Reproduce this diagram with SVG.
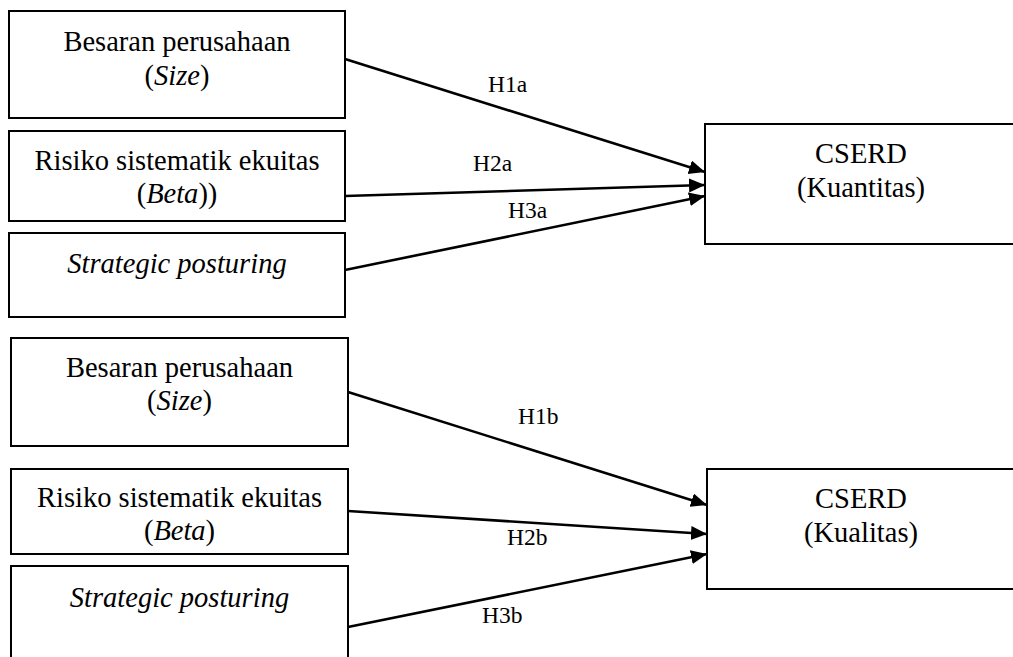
<svg xmlns="http://www.w3.org/2000/svg" width="1013" height="657" viewBox="0 0 1013 657">
<style>
.box{fill:#fff;stroke:#000;stroke-width:2}
.t{font-family:"Liberation Serif","Times New Roman",serif;font-size:28.5px;fill:#000;text-anchor:middle}
.lbl{font-family:"Liberation Serif","Times New Roman",serif;font-size:23.5px;fill:#000}
.it{font-style:italic}
.con{stroke:#000;stroke-width:2.6;fill:none;marker-end:url(#arr)}
</style>
<defs>
<marker id="arr" markerUnits="userSpaceOnUse" markerWidth="18" markerHeight="16" refX="16" refY="7" orient="auto">
<path d="M0,0 L16,7 L0,14 z" fill="#000"/>
</marker>
</defs>
<rect width="1013" height="657" fill="#fff"/>
<g id="connectors">
<line class="con" x1="345" y1="59" x2="705" y2="172"/>
<line class="con" x1="345" y1="196" x2="705" y2="185"/>
<line class="con" x1="345" y1="270" x2="705" y2="196"/>
<line class="con" x1="348" y1="392" x2="707" y2="505"/>
<line class="con" x1="348" y1="511" x2="707" y2="534"/>
<line class="con" x1="348" y1="627" x2="707" y2="554"/>
<text class="lbl" x="488" y="92">H1a</text>
<text class="lbl" x="473" y="171">H2a</text>
<text class="lbl" x="508" y="218">H3a</text>
<text class="lbl" x="518" y="424">H1b</text>
<text class="lbl" x="507" y="545">H2b</text>
<text class="lbl" x="482" y="623">H3b</text>
</g>
<g id="size-a">
<rect class="box" x="9" y="11" width="336" height="107"/>
<text class="t" x="177" y="51">Besaran perusahaan</text>
<text class="t" x="177" y="85">(<tspan class="it">Size</tspan>)</text>
</g>
<g id="beta-a">
<rect class="box" x="9" y="131" width="336" height="90"/>
<text class="t" x="177" y="170">Risiko sistematik ekuitas</text>
<text class="t" x="177" y="203">(<tspan class="it">Beta</tspan>))</text>
</g>
<g id="strategic-a">
<rect class="box" x="9" y="233" width="336" height="84"/>
<text class="t it" x="177" y="273">Strategic posturing</text>
</g>
<g id="cserd-kuantitas">
<rect class="box" x="705" y="124" width="314" height="120"/>
<text class="t" x="861" y="163">CSERD</text>
<text class="t" x="861" y="197">(Kuantitas)</text>
</g>
<g id="size-b">
<rect class="box" x="11" y="338" width="337" height="108"/>
<text class="t" x="179.5" y="377">Besaran perusahaan</text>
<text class="t" x="179.5" y="410">(<tspan class="it">Size</tspan>)</text>
</g>
<g id="beta-b">
<rect class="box" x="11" y="469" width="337" height="85"/>
<text class="t" x="179.5" y="507">Risiko sistematik ekuitas</text>
<text class="t" x="179.5" y="540">(<tspan class="it">Beta</tspan>)</text>
</g>
<g id="strategic-b">
<rect class="box" x="11" y="566" width="337" height="100"/>
<text class="t it" x="179.5" y="607">Strategic posturing</text>
</g>
<g id="cserd-kualitas">
<rect class="box" x="707" y="469" width="312" height="120"/>
<text class="t" x="861" y="508">CSERD</text>
<text class="t" x="861" y="542">(Kualitas)</text>
</g>
</svg>
